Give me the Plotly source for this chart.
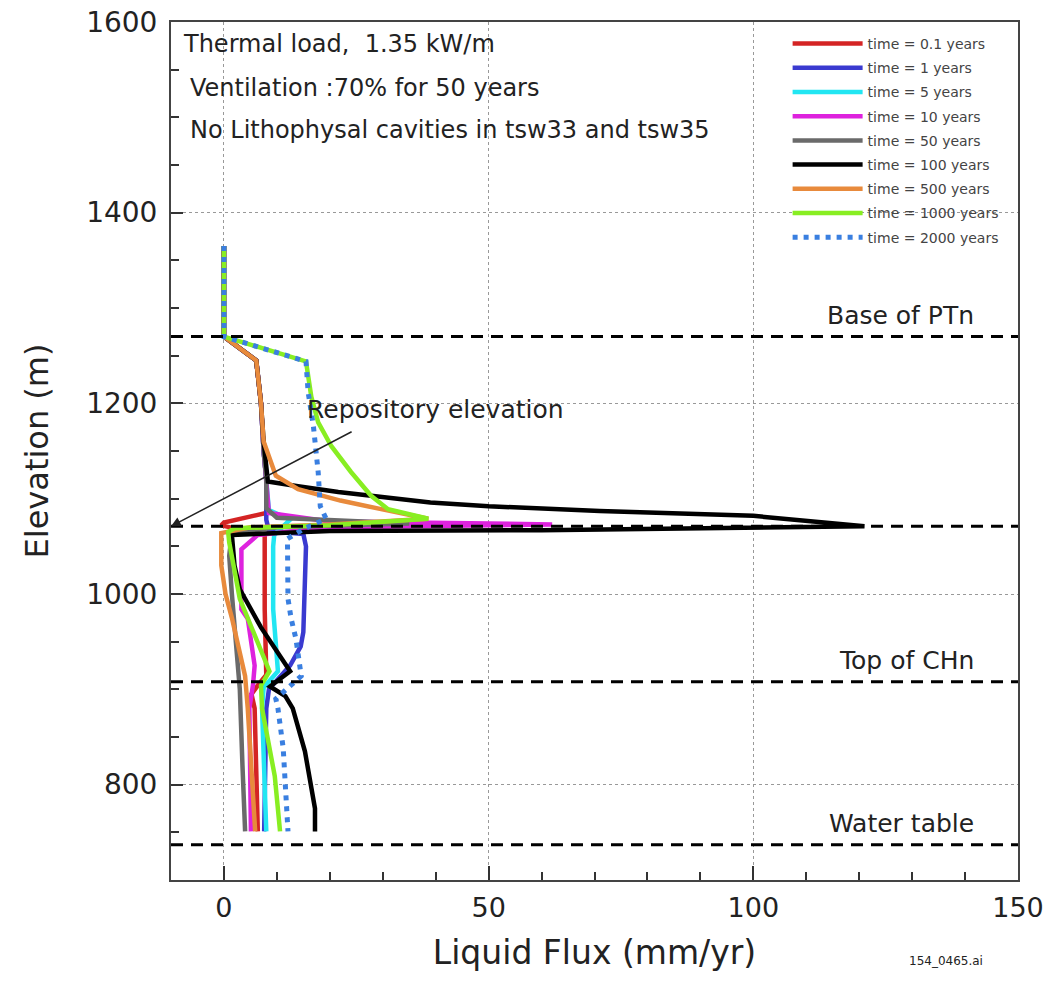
import plotly.graph_objects as go

# ---------------- data ----------------
labels = ["time = 0.1 years", "time = 1 years", "time = 5 years", "time = 10 years",
          "time = 50 years", "time = 100 years", "time = 500 years",
          "time = 1000 years", "time = 2000 years"]

flux_01 = [0, 0, 6.1, 7.0, 7.5, 8.0, 8.0, 0.0, -0.5, 7.7, 7.7, 8.0, 8.0, 6.5, 5.2, 5.8, 6.4]
elev_01 = [1365, 1270, 1245, 1200, 1150, 1120, 1085, 1075, 1072, 1062, 984, 930, 915, 905, 895, 880, 751]

flux_1 = [0, 0, 6.1, 7.0, 7.5, 8.0, 8.0, 8.5, 15.0, 15.5, 15.0, 14.5, 12.5, 10.0, 8.5, 8.0, 7.6]
elev_1 = [1365, 1270, 1245, 1200, 1150, 1120, 1078, 1066, 1063, 1050, 960, 945, 925, 910, 900, 880, 751]

flux_5 = [0, 0, 6.1, 7.0, 7.5, 8.0, 8.5, 12.5, 9.5, 9.3, 9.3, 10.2, 7.5, 7.2, 8.0]
elev_5 = [1365, 1270, 1245, 1200, 1150, 1120, 1088, 1078, 1062, 1050, 984, 919, 902, 880, 751]

flux_10 = [0, 0, 6.1, 7.0, 7.5, 8.0, 8.5, 20.0, 62.0, 20.0, 6.4, 3.3, 3.3, 4.5, 5.8, 5.5, 4.8, 5.1]
elev_10 = [1365, 1270, 1245, 1200, 1150, 1120, 1085, 1076, 1073, 1070, 1062, 1047, 984, 974, 925, 905, 880, 751]

flux_50 = [0, 0, 6.1, 7.0, 7.5, 8.0, 8.0, 10.0, 35.0, 10.0, 1.5, 1.0, 1.5, 2.5, 3.0, 3.5, 4.0]
elev_50 = [1365, 1270, 1245, 1200, 1150, 1120, 1090, 1080, 1074, 1070, 1064, 1040, 1000, 930, 900, 820, 751]

flux_100 = [0, 0, 6.1, 7.0, 7.5, 8.3, 14.0, 21.6, 39.0, 50.0, 71.0, 100.0, 121.0, 60.0, 20.0,
            1.5, 2.0, 3.0, 4.0, 7.0, 12.5, 8.7, 11.6, 13.0, 15.3, 17.2, 17.2]
elev_100 = [1365, 1270, 1245, 1200, 1160, 1118, 1113, 1107, 1096, 1092, 1087, 1082, 1071, 1067, 1066,
            1062, 1030, 1005, 995, 965, 919, 903, 893, 880, 835, 775, 751]

flux_500 = [0, 0, 6.1, 7.0, 7.5, 9.8, 14.0, 22.0, 29.7, 38.6, 20.0, 5.0, -0.5, -0.5, 0.3, 1.5, 4.0, 4.5, 5.9]
elev_500 = [1365, 1270, 1245, 1200, 1160, 1124, 1110, 1098, 1089, 1079, 1073, 1070, 1064, 1030, 1000, 975, 914, 880, 751]

flux_1000 = [0, 0, 15.5, 16.5, 17.8, 20.3, 24.0, 27.8, 31.0, 38.6, 20.0, 2.0, 0.8, 1.0, 3.0, 8.6, 7.0, 7.2, 9.6, 10.6]
elev_1000 = [1365, 1270, 1244, 1207, 1180, 1155, 1128, 1103, 1089, 1079, 1072, 1069, 1065, 1054, 995, 919, 904, 880, 809, 751]

flux_2000 = [0, 0, 15.5, 15.9, 16.9, 17.8, 18.2, 19.3, 15.0, 12.0, 12.1, 12.7, 13.6, 14.6, 9.8, 10.2, 11.2, 12.1]
elev_2000 = [1365, 1270, 1244, 1212, 1176, 1128, 1092, 1079, 1068, 1058, 995, 974, 953, 914, 890, 880, 838, 751]

colors = ["#d42424", "#3a3ad0", "#22e6f2", "#de22de", "#6a6a6a", "#000000",
          "#e88a3c", "#88ee22", "#3a7fe0"]

layer_elev = [1270, 1071, 908, 737]
layer_names = ["Base of PTn", "", "Top of CHn", "Water table"]

x_ticks = [0, 50, 100, 150]
y_ticks = [800, 1000, 1200, 1400, 1600]

series = [(flux_01, elev_01), (flux_1, elev_1), (flux_5, elev_5), (flux_10, elev_10),
          (flux_50, elev_50), (flux_100, elev_100), (flux_500, elev_500),
          (flux_1000, elev_1000), (flux_2000, elev_2000)]

FONT = "DejaVu Sans"

fig = go.Figure()

# horizontal dashed layer boundaries
for e in layer_elev:
    fig.add_hline(y=e, line=dict(color="black", width=3, dash="12px,8px"), layer="above")

for i, ((fx, ey), lab, col) in enumerate(zip(series, labels, colors)):
    if i == 8:
        ln = dict(color=col, width=5, dash="5px,6px")
    else:
        ln = dict(color=col, width=4.5)
    fig.add_trace(go.Scatter(x=fx, y=ey, mode="lines", name=lab, line=ln,
                             legendgroup="g%d" % i))

# layer labels
for e, nm in zip(layer_elev, layer_names):
    if nm:
        fig.add_annotation(x=142, y=e, yshift=21, text=nm, showarrow=False,
                           xanchor="right", yanchor="middle",
                           font=dict(family=FONT, size=25, color="#222"))

# repository arrow + text
fig.add_annotation(x=-10, y=1071, ax=24.4, ay=1171, axref="x", ayref="y",
                   text="", showarrow=True, arrowhead=2, arrowsize=1.3,
                   arrowwidth=1.5, arrowcolor="#222")
fig.add_annotation(x=15.3, y=1194, text="Repository elevation", showarrow=False,
                   xanchor="left", yanchor="middle",
                   font=dict(family=FONT, size=25, color="#222"))

# top-left description
notes = ["Thermal load,  1.35 kW/m", "Ventilation :70% for 50 years",
         "No Lithophysal cavities in tsw33 and tsw35"]
note_x = [-8.1, -6.8, -6.8]
note_y = [1577, 1531, 1487]
for t, nx, ny in zip(notes, note_x, note_y):
    fig.add_annotation(x=nx, y=ny, text=t, showarrow=False, xanchor="left",
                       yanchor="middle", font=dict(family=FONT, size=24, color="#222"))

fig.add_annotation(x=0.961, y=-0.105, xref="paper", yref="paper", text="154_0465.ai",
                   showarrow=False, font=dict(family=FONT, size=12, color="#222"))

fig.update_xaxes(range=[-10, 150], tickvals=x_ticks, ticks="inside", ticklen=14,
                 tickwidth=1.5, tickcolor="#333", automargin=False,
                 minor=dict(dtick=10, ticks="inside", ticklen=8, tickcolor="#333", showgrid=False),
                 showline=True, linecolor="#444", linewidth=2, mirror=True,
                 showgrid=True, gridcolor="#999", griddash="dot", gridwidth=1,
                 zeroline=False, ticklabelstandoff=3, ticklabeloverflow="allow",
                 tickfont=dict(family=FONT, size=27, color="#222"),
                 title=dict(text="Liquid Flux (mm/yr)", standoff=18,
                            font=dict(family=FONT, size=33, color="#222")))
fig.update_yaxes(range=[700, 1600], tickvals=y_ticks, ticks="inside", ticklen=12,
                 tickwidth=1.5, tickcolor="#333", automargin=False,
                 minor=dict(dtick=50, ticks="inside", ticklen=8, tickcolor="#333", showgrid=False),
                 showline=True, linecolor="#444", linewidth=2, mirror=True,
                 showgrid=True, gridcolor="#999", griddash="dot", gridwidth=1,
                 zeroline=False, ticklabelstandoff=6, ticklabeloverflow="allow",
                 tickfont=dict(family=FONT, size=28, color="#222"),
                 title=dict(text="Elevation (m)", standoff=28,
                            font=dict(family=FONT, size=32, color="#222")))

fig.update_layout(width=1052, height=988, margin=dict(l=171, r=34, t=22, b=108),
                  plot_bgcolor="white", paper_bgcolor="white",
                  showlegend=True,
                  legend=dict(x=0.728, y=0.993, xanchor="left", yanchor="top",
                              bgcolor="rgba(255,255,255,0)", tracegroupgap=3,
                              itemwidth=70,
                              font=dict(family=FONT, size=14, color="#444")))

fig.write_html("out.html", config={"displayModeBar": False},
               post_script="document.body.style.margin='0px';document.body.style.overflow='hidden';")
